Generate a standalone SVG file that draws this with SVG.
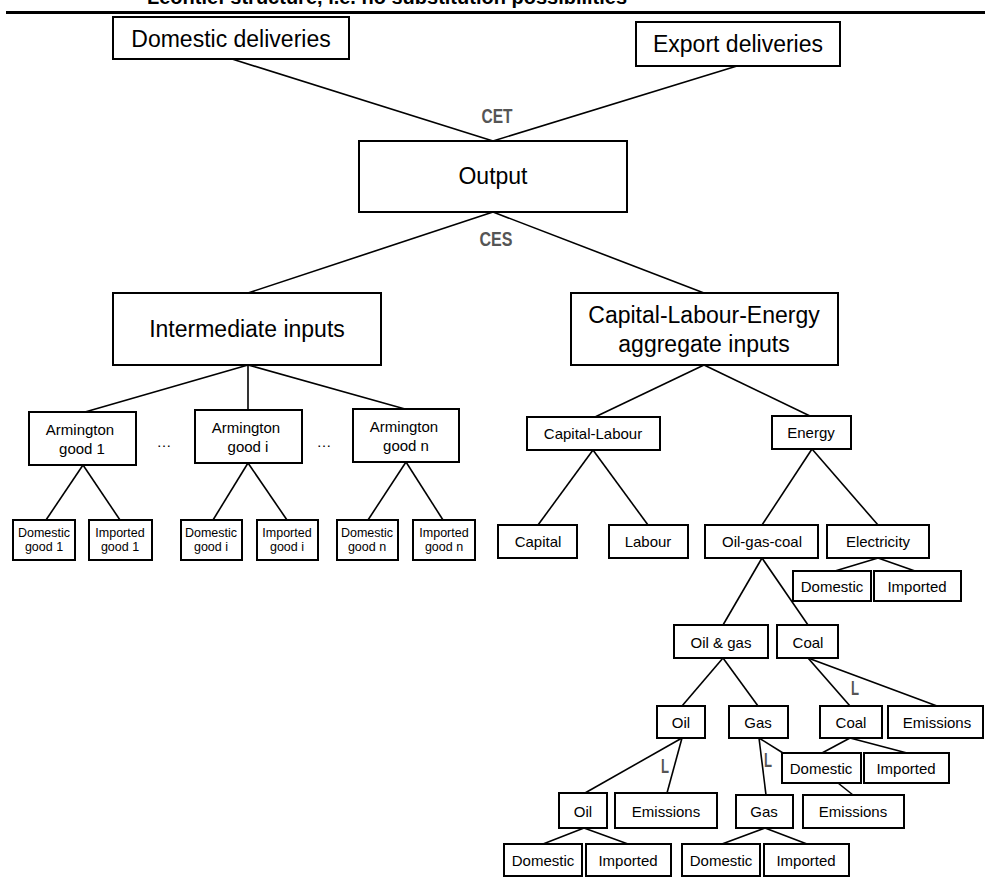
<svg xmlns="http://www.w3.org/2000/svg" width="985" height="877" viewBox="0 0 985 877">
<style>
.box{fill:#fff;stroke:#000;stroke-width:2}
.ln{stroke:#000;stroke-width:1.6;fill:none}
text{font-family:"Liberation Sans",Arial,sans-serif;text-anchor:middle;fill:#000}
.big{font-size:23px}
.mid{font-size:15px}
.sm{font-size:12.5px}
.lab{font-weight:bold;fill:#555;font-size:20px}
.hdr{font-weight:bold;font-size:20px;text-anchor:start}
</style>
<rect width="985" height="877" fill="#fff"/>
<text class="hdr" x="147" y="4">Leontief structure, i.e. no substitution possibilities</text>
<line x1="6" y1="12.5" x2="985" y2="12.5" stroke="#000" stroke-width="3"/>
<g id="connectors">
<line class="ln" x1="232" y1="59" x2="493" y2="141"/>
<line class="ln" x1="737" y1="66" x2="493" y2="141"/>
<line class="ln" x1="493" y1="212" x2="248" y2="293"/>
<line class="ln" x1="493" y1="212" x2="704" y2="293"/>
<line class="ln" x1="248" y1="365" x2="85" y2="412"/>
<line class="ln" x1="248" y1="365" x2="248" y2="410"/>
<line class="ln" x1="248" y1="365" x2="405" y2="409"/>
<line class="ln" x1="83" y1="465" x2="46" y2="520"/>
<line class="ln" x1="83" y1="465" x2="120" y2="520"/>
<line class="ln" x1="248" y1="463" x2="213" y2="520"/>
<line class="ln" x1="248" y1="463" x2="287" y2="520"/>
<line class="ln" x1="406" y1="462" x2="368" y2="520"/>
<line class="ln" x1="406" y1="462" x2="443" y2="520"/>
<line class="ln" x1="704" y1="365" x2="595" y2="417"/>
<line class="ln" x1="704" y1="365" x2="810" y2="416"/>
<line class="ln" x1="593" y1="450" x2="538" y2="525"/>
<line class="ln" x1="593" y1="450" x2="648" y2="525"/>
<line class="ln" x1="812" y1="449" x2="762" y2="525"/>
<line class="ln" x1="812" y1="449" x2="878" y2="525"/>
<line class="ln" x1="878" y1="558" x2="835" y2="571"/>
<line class="ln" x1="878" y1="558" x2="915" y2="571"/>
<line class="ln" x1="762" y1="558" x2="723" y2="625"/>
<line class="ln" x1="762" y1="558" x2="808" y2="625"/>
<line class="ln" x1="723" y1="658" x2="682" y2="706"/>
<line class="ln" x1="723" y1="658" x2="758" y2="706"/>
<line class="ln" x1="808" y1="658" x2="850" y2="706"/>
<line class="ln" x1="808" y1="658" x2="937" y2="706"/>
<line class="ln" x1="850" y1="738" x2="822" y2="753"/>
<line class="ln" x1="850" y1="738" x2="907" y2="753"/>
<line class="ln" x1="838" y1="783" x2="853" y2="795"/>
<line class="ln" x1="759" y1="738" x2="766" y2="795"/>
<line class="ln" x1="759" y1="738" x2="783" y2="753"/>
<line class="ln" x1="682" y1="738" x2="585" y2="793"/>
<line class="ln" x1="682" y1="738" x2="667" y2="793"/>
<line class="ln" x1="584" y1="828" x2="543" y2="844"/>
<line class="ln" x1="584" y1="828" x2="628" y2="844"/>
<line class="ln" x1="765" y1="828" x2="722" y2="844"/>
<line class="ln" x1="765" y1="828" x2="807" y2="844"/>
<text class="lab" x="497" y="123" textLength="31" lengthAdjust="spacingAndGlyphs">CET</text>
<text class="lab" x="496" y="246" textLength="33" lengthAdjust="spacingAndGlyphs">CES</text>
<text class="lab" x="855" y="695" font-size="18" textLength="8" lengthAdjust="spacingAndGlyphs">L</text>
<text class="lab" x="768" y="767" font-size="18" textLength="8" lengthAdjust="spacingAndGlyphs">L</text>
<text class="lab" x="665" y="773" font-size="18" textLength="8" lengthAdjust="spacingAndGlyphs">L</text>
</g>
<g id="dom_del"><rect class="box" x="113" y="17" width="236" height="42"/><text class="big" x="231" y="47">Domestic deliveries</text></g>
<g id="exp_del"><rect class="box" x="636" y="22" width="204" height="44"/><text class="big" x="738" y="52" font-size="22">Export deliveries</text></g>
<g id="output"><rect class="box" x="359" y="141" width="268" height="71"/><text class="big" x="493" y="184">Output</text></g>
<g id="intermediate"><rect class="box" x="113" y="293" width="268" height="72"/><text class="big" x="247" y="337">Intermediate inputs</text></g>
<g id="cle"><rect class="box" x="571" y="293" width="267" height="72"/><text class="big" x="704" y="323">Capital-Labour-Energy</text><text class="big" x="704" y="352">aggregate inputs</text></g>
<g id="arm1"><rect class="box" x="29" y="412" width="107" height="53"/><text class="mid" x="80" y="435">Armington</text><text class="mid" x="82" y="454">good 1</text></g>
<g id="armi"><rect class="box" x="195" y="410" width="107" height="53"/><text class="mid" x="246" y="433">Armington</text><text class="mid" x="248" y="452">good i</text></g>
<g id="armn"><rect class="box" x="353" y="409" width="106" height="53"/><text class="mid" x="404" y="432">Armington</text><text class="mid" x="406" y="451">good n</text></g>
<text class="mid" x="164" y="447">…</text>
<text class="mid" x="324" y="447">…</text>
<g id="dg1"><rect class="box" x="13" y="520" width="62" height="40"/><text class="sm" x="44" y="537">Domestic</text><text class="sm" x="44" y="551">good 1</text></g>
<g id="ig1"><rect class="box" x="89" y="520" width="63" height="40"/><text class="sm" x="120" y="537">Imported</text><text class="sm" x="120" y="551">good 1</text></g>
<g id="dgi"><rect class="box" x="181" y="520" width="61" height="40"/><text class="sm" x="211" y="537">Domestic</text><text class="sm" x="211" y="551">good i</text></g>
<g id="igi"><rect class="box" x="257" y="520" width="61" height="40"/><text class="sm" x="287" y="537">Imported</text><text class="sm" x="287" y="551">good i</text></g>
<g id="dgn"><rect class="box" x="337" y="520" width="61" height="40"/><text class="sm" x="367" y="537">Domestic</text><text class="sm" x="367" y="551">good n</text></g>
<g id="ign"><rect class="box" x="413" y="520" width="62" height="40"/><text class="sm" x="444" y="537">Imported</text><text class="sm" x="444" y="551">good n</text></g>
<g id="cap_lab"><rect class="box" x="527" y="417" width="133" height="33"/><text class="mid" x="593" y="439">Capital-Labour</text></g>
<g id="energy"><rect class="box" x="772" y="416" width="79" height="33"/><text class="mid" x="811" y="438">Energy</text></g>
<g id="capital"><rect class="box" x="498" y="525" width="79" height="33"/><text class="mid" x="538" y="547">Capital</text></g>
<g id="labour"><rect class="box" x="609" y="525" width="79" height="33"/><text class="mid" x="648" y="547">Labour</text></g>
<g id="ogc"><rect class="box" x="705" y="525" width="113" height="33"/><text class="mid" x="762" y="547">Oil-gas-coal</text></g>
<g id="elec"><rect class="box" x="827" y="525" width="102" height="33"/><text class="mid" x="878" y="547">Electricity</text></g>
<g id="el_dom"><rect class="box" x="793" y="571" width="78" height="30"/><text class="mid" x="832" y="592">Domestic</text></g>
<g id="el_imp"><rect class="box" x="874" y="571" width="87" height="30"/><text class="mid" x="917" y="592">Imported</text></g>
<g id="oilgas"><rect class="box" x="674" y="625" width="94" height="33"/><text class="mid" x="721" y="648">Oil &amp; gas</text></g>
<g id="coal1"><rect class="box" x="777" y="625" width="61" height="33"/><text class="mid" x="808" y="648">Coal</text></g>
<g id="oil1"><rect class="box" x="657" y="706" width="48" height="32"/><text class="mid" x="681" y="728">Oil</text></g>
<g id="gas1"><rect class="box" x="729" y="706" width="59" height="32"/><text class="mid" x="758" y="728">Gas</text></g>
<g id="coal2"><rect class="box" x="820" y="706" width="62" height="32"/><text class="mid" x="851" y="728">Coal</text></g>
<g id="em_coal"><rect class="box" x="888" y="706" width="95" height="32"/><text class="mid" x="937" y="728">Emissions</text></g>
<g id="coal_dom"><rect class="box" x="782" y="753" width="79" height="30"/><text class="mid" x="821" y="774">Domestic</text></g>
<g id="coal_imp"><rect class="box" x="864" y="753" width="85" height="30"/><text class="mid" x="906" y="774">Imported</text></g>
<g id="coal_em"><rect class="box" x="803" y="795" width="101" height="33"/><text class="mid" x="853" y="817">Emissions</text></g>
<g id="oil2"><rect class="box" x="559" y="793" width="48" height="35"/><text class="mid" x="583" y="817">Oil</text></g>
<g id="oil_em"><rect class="box" x="615" y="793" width="102" height="35"/><text class="mid" x="666" y="817">Emissions</text></g>
<g id="gas2"><rect class="box" x="736" y="795" width="57" height="33"/><text class="mid" x="764" y="817">Gas</text></g>
<g id="oil_dom"><rect class="box" x="504" y="844" width="78" height="32"/><text class="mid" x="543" y="866">Domestic</text></g>
<g id="oil_imp"><rect class="box" x="586" y="844" width="85" height="32"/><text class="mid" x="628" y="866">Imported</text></g>
<g id="gas_dom"><rect class="box" x="682" y="844" width="78" height="32"/><text class="mid" x="721" y="866">Domestic</text></g>
<g id="gas_imp"><rect class="box" x="764" y="844" width="85" height="32"/><text class="mid" x="806" y="866">Imported</text></g>
</svg>
